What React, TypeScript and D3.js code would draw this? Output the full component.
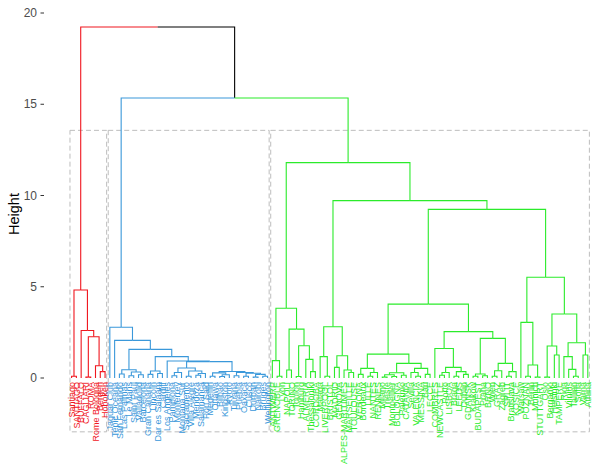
import React, { useEffect, useRef } from "react";
import * as d3 from "d3";

// leaf labels per cluster, in dendrogram order
const redLabels = ["Santiago", "SANTIAGO", "BUFFALO", "CAGLIARI", "ROMA", "Rome Bologna", "Bergen", "Hoboken"];
const blueLabels = [
  "Jaguar Club", "Tepic Oceana", "San Fernando", "Las Palmas", "Le Mans", "Saint Paul", "Valladolid",
  "Barcelona", "Gran Canaria", "Lincoln", "Dar es Salaam", "Cardiff", "Los Angeles", "Pamplona",
  "Monterrey", "Montana Sur", "Sacramento", "Villa Alegre", "Mendoza", "Salamanca", "Port Said",
  "Medellin", "Ottawa", "Bilbao", "Kingston", "Kyoto", "Tijuana", "Puebla", "Oaxaca", "Cusco",
  "Durban", "Nairobi", "Bruges", "Wellington"
];
const greenLabels = [
  "ANTWERP", "GRENOBLE", "Lyon", "NAPOLI", "TORINO", "Toulon", "Hamburg", "ALMERIA", "Thessaloniki",
  "CORDOBA", "Malaga", "LIVERPOOL", "BRISTOL", "MADRID", "GENOVA", "ALPES-MARITIMES", "MARSEILLE",
  "TOULOUSE", "VERONA", "Bordeaux", "LILLE", "NANTES", "RENNES", "Milano", "Trieste", "Montpellier",
  "BOLOGNA", "Palermo", "CATANIA", "Sevilla", "VALENCIA", "MESSINA", "Bari", "LECCE", "COMBRES",
  "NEWCASTLE", "Porto", "LISBOA", "Braga", "LEEDS", "Dublin", "GDANSK", "Krakow", "BUDAPEST", "Praha",
  "BRNO", "Wien", "GRAZ", "Zagreb", "SPLIT", "Bratislava", "KOSICE", "Warsaw", "POZNAN", "Berlin",
  "Munich", "STUTTGART", "Oslo", "Bergamo", "Helsinki", "TAMPERE", "Riga", "Vilnius", "Tallinn",
  "Sofia", "Varna", "Athina"
];

// merges as [height, left, right]; a number is a leaf index in the cluster's labels
const redTree = [4.82, [0.1, 0, 1], [2.6, 2, [2.26, [0.05, 3, 4], [0.67, 5, [0.35, 6, 7]]]]];

const blueTree = [2.78, 0, [2.06, 1, [1.57,
  [0.45, [0.22, 2, 3], [0.33, [0.12, 4, 5], [0.18, 6, 7]]],
  [1.17, [0.38, [0.2, 8, 9], [0.25, 10, 11]],
    [0.93, 12, [0.9,
      [0.55, [0.3, [0.12, 13, 14], 15], [0.38, [0.1, 16, 17], [0.25, [0.15, 18, 19], 20]]],
      [0.36, [0.28, [0.1, 21, 22], [0.18, [0.08, 23, 24], 25]],
        [0.3, [0.12, 26, 27], [0.26, [0.1, 28, 29], [0.2, [0.05, 30, 31], [0.1, 32, 33]]]]]]]]]]];

const greenTree = [11.8,
  [3.82, [0.95, 0, [0.1, 1, 2]],
    [2.68, [0.44, 3, 4], [1.77, [0.08, 5, 6], [1.02, 7, [0.35, 8, 9]]]]],
  [9.72,
    [2.81, [1.17, 10, [0.1, 11, 12]], [1.22, [0.58, 13, 14], [0.44, 15, [0.3, 16, 17]]]],
    [9.24,
      [4.05,
        [1.31,
          [0.53, [0.2, 18, 19], [0.3, [0.1, 20, 21], 22]],
          [0.8, [0.29, [0.18, [0.05, 23, 24], [0.08, 25, 26]], [0.15, 27, 28]],
            [0.53, [0.3, 29, [0.1, 30, 31]], [0.2, 32, 33]]]],
        [2.54,
          [1.62, 34, [0.58, [0.3, [0.15, 35, 36], 37], [0.35, [0.1, 38, 39], [0.2, 40, 41]]]],
          [2.17, [0.22, [0.1, 42, 43], [0.12, 44, 45]], [0.8, [0.4, [0.1, 46, 47], 48], [0.35, [0.1, 49, 50], 51]]]]],
      [5.52,
        [3.05, 52, [0.71, [0.1, 53, 54], [0.05, 55, 56]]],
        [3.51, [1.75, [0.05, 57, 58], [1.26, 59, 60]],
          [1.93, [1.17, 61, [0.47, 62, [0.1, 63, 64]]], [1.26, 65, 66]]]]]]];

// the two top merges: root, then blue + green
const topHeights = [19.23, 15.34];
const clusterColors = ["#F0161E", "#3A98DA", "#2BEB2B"];
const yTicks = [0, 5, 10, 15, 20];
const rectBottom = -2.95;

function build(t, labels, cluster) {
  if (typeof t === "number") return { height: 0, label: labels[t], cluster };
  return { height: t[0], cluster, children: [build(t[1], labels, cluster), build(t[2], labels, cluster)] };
}

export default function App() {
  const ref = useRef(null);

  useEffect(() => {
    var width = 605;
    var height = 466;
    var svg = d3.select(ref.current);
    svg.selectAll("*").remove();

    var rootData = {
      height: topHeights[0],
      cluster: -1,
      children: [
        build(redTree, redLabels, 0),
        {
          height: topHeights[1],
          cluster: -1,
          children: [build(blueTree, blueLabels, 1), build(greenTree, greenLabels, 2)]
        }
      ]
    };
    var root = d3.hierarchy(rootData);
    var leaves = root.leaves();

    var xScale = d3.scaleLinear().domain([0, leaves.length - 1]).range([71.6, 587.8]);
    var yScale = d3.scaleLinear().domain([0, 20]).range([378, 13]);

    leaves.forEach((d, i) => {
      d.x = xScale(i);
      d.idx = i;
    });
    root.eachAfter(d => {
      if (d.children) d.x = d3.mean(d.children, c => c.x);
    });

    svg.append("rect").attr("width", width).attr("height", height).attr("fill", "white");

    // dashed cluster boxes
    var rectTop = d3.mean([topHeights[1], greenTree[0]]);
    clusterColors.forEach((col, k) => {
      var idx = leaves.filter(d => d.data.cluster === k).map(d => d.idx);
      var x0 = xScale(d3.min(idx) - 0.34);
      var x1 = xScale(d3.max(idx) + 0.33);
      svg
        .append("rect")
        .attr("x", x0)
        .attr("y", yScale(rectTop))
        .attr("width", x1 - x0)
        .attr("height", yScale(rectBottom) - yScale(rectTop))
        .attr("fill", "none")
        .attr("stroke", "#BDBDBD")
        .attr("stroke-width", 1)
        .attr("stroke-dasharray", "5,3");
    });

    // branches
    svg
      .selectAll(".link")
      .data(root.descendants().filter(d => d.parent))
      .enter()
      .append("path")
      .classed("link", true)
      .attr("d", d => `M${d.parent.x},${yScale(d.parent.data.height)}H${d.x}V${yScale(d.data.height)}`)
      .attr("fill", "none")
      .attr("stroke", d => (d.data.cluster >= 0 ? clusterColors[d.data.cluster] : "#000000"))
      .attr("stroke-width", 1.1);

    // leaf labels
    svg
      .selectAll(".leaf")
      .data(leaves)
      .enter()
      .append("text")
      .classed("leaf", true)
      .attr("transform", d => `translate(${d.x},382) rotate(-90)`)
      .attr("dy", "0.35em")
      .attr("text-anchor", "end")
      .attr("font-family", "Liberation Sans, Arial, sans-serif")
      .attr("font-size", 9)
      .attr("fill", d => clusterColors[d.data.cluster])
      .text(d => d.data.label);

    // y axis
    var axis = svg.append("g");
    yTicks.forEach(t => {
      axis
        .append("line")
        .attr("x1", 40.5)
        .attr("x2", 44)
        .attr("y1", yScale(t))
        .attr("y2", yScale(t))
        .attr("stroke", "#333333")
        .attr("stroke-width", 1);
      axis
        .append("text")
        .attr("x", 37)
        .attr("y", yScale(t))
        .attr("dy", "0.35em")
        .attr("text-anchor", "end")
        .attr("font-family", "Liberation Sans, Arial, sans-serif")
        .attr("font-size", 12)
        .attr("fill", "#4D4D4D")
        .text(t);
    });

    svg
      .append("text")
      .attr("transform", "translate(14,214) rotate(-90)")
      .attr("dy", "0.35em")
      .attr("text-anchor", "middle")
      .attr("font-family", "Liberation Sans, Arial, sans-serif")
      .attr("font-size", 14.5)
      .attr("fill", "#000000")
      .text("Height");
  }, []);

  return (
    <svg
      ref={ref}
      width={605}
      height={466}
      style={{ position: "absolute", left: 0, top: 0, display: "block" }}
    />
  );
}
